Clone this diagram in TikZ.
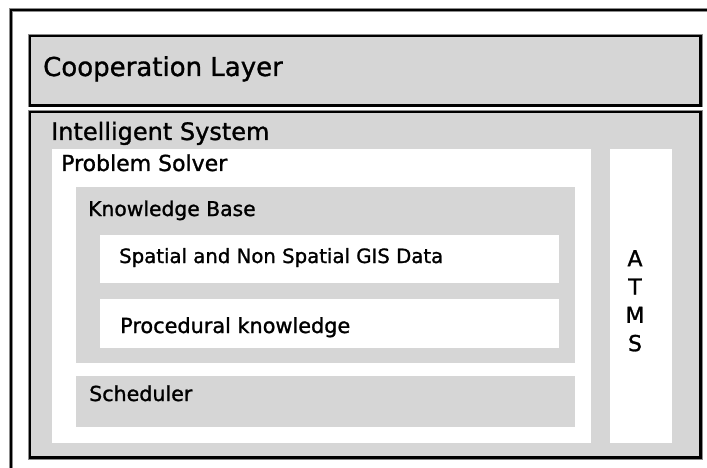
\documentclass[tikz,border=0pt]{standalone}
\usepackage{fontspec}
\setmainfont[FakeBold=1.2]{DejaVu Sans}
\definecolor{panel}{RGB}{214,214,214}
\begin{document}
\begin{tikzpicture}[x=1pt,y=-1pt,
  box/.style={rectangle,inner sep=0pt,outer sep=0pt,anchor=north west},
  framed/.style={box,fill=panel,draw=black,line width=2.2pt,
    preaction={draw=black!45,line width=4pt}},
  whitebox/.style={box,fill=white},
  greybox/.style={box,fill=panel},
  lbl/.style={inner sep=0pt,anchor=base west,text=black},
  fs/.style={font=\fontsize{#1}{#1}\selectfont}]
  \useasboundingbox (0,0) rectangle (707,468);
  \fill[white] (0,0) rectangle (707,468);

  % outer frame, running past the right and bottom edges
  \begin{scope}
    \clip (0,0) rectangle (707,468);
    \draw[black!45,line width=4pt] (11,10) rectangle (730,490);
    \draw[black,line width=2.2pt] (11,10) rectangle (730,490);
  \end{scope}

  % layers
  \node[framed,minimum width=670.5pt,minimum height=69.5pt] (coop) at (30,36) {};
  \node[framed,minimum width=670.5pt,minimum height=345.5pt] (intel) at (30,112) {};

  % inside the intelligent system
  \node[whitebox,minimum width=539pt,minimum height=294pt] (solver) at (52,149) {};
  \node[whitebox,minimum width=62pt,minimum height=294pt] (atms) at (610,149) {};
  \node[greybox,minimum width=499pt,minimum height=176pt] (kb) at (76,187) {};
  \node[whitebox,minimum width=459pt,minimum height=48pt] (gis) at (100,235) {};
  \node[whitebox,minimum width=459pt,minimum height=49pt] (proc) at (100,299) {};
  \node[greybox,minimum width=499pt,minimum height=51pt] (sched) at (76,376) {};

  % labels
  \node[lbl,fs=26] (tcoop) at (43,76) {Cooperation Layer};
  \node[lbl,fs=24] (tintel) at (51,140) {Intelligent System};
  \node[lbl,fs=22] (tsolver) at (61,171) {Problem Solver};
  \node[lbl,fs=20.3] (tkb) at (88,216) {Knowledge Base};
  \node[lbl,fs=19.7] (tgis) at (119,263) {Spatial and Non Spatial GIS Data};
  \node[lbl,fs=20.8] (tproc) at (120,333) {Procedural knowledge};
  \node[lbl,fs=20.6] (tsched) at (89,401) {Scheduler};
  \node[inner sep=0pt,anchor=north,align=center,
        font=\fontsize{22}{28.3}\selectfont] (tatms) at (635,250) {A\\T\\M\\S};
\end{tikzpicture}
\end{document}
